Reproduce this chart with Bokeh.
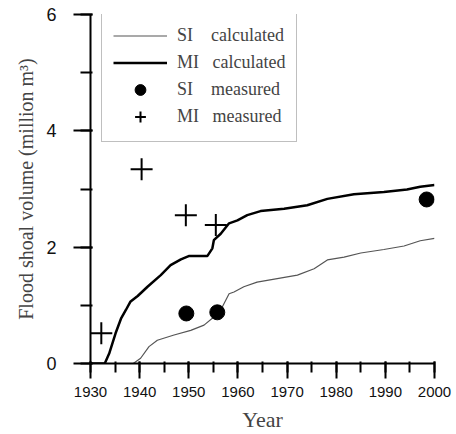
from bokeh.plotting import figure
from bokeh.models import Range1d, Legend, LegendItem
from bokeh.embed import file_html
from bokeh.resources import INLINE

# ---- data ----
mi_calc_year = [1930, 1932.9, 1933.8, 1935.1, 1936.2, 1937.2, 1938.1, 1939.6, 1941.6, 1944.3,
                1946.3, 1948.4, 1950.1, 1953.8, 1954.8, 1955.1, 1956.5, 1958.2, 1959.9, 1961.9,
                1964.6, 1969.4, 1974.1, 1978.2, 1983.6, 1989.7, 1994.4, 1997.1, 2000]
mi_calc_vol = [0, 0, 0.17, 0.52, 0.77, 0.92, 1.06, 1.16, 1.32, 1.52,
               1.69, 1.79, 1.85, 1.85, 1.98, 2.12, 2.23, 2.41, 2.46, 2.55,
               2.62, 2.66, 2.72, 2.83, 2.91, 2.95, 2.99, 3.04, 3.07]

si_calc_year = [1938.7, 1940.2, 1941.9, 1943.6, 1947.0, 1950.4, 1953.1, 1955.1, 1956.5, 1958.2,
                1959.2, 1961.2, 1963.9, 1968.0, 1972.1, 1975.5, 1978.2, 1981.6, 1985.0, 1989.7,
                1993.8, 1997.1, 2000]
si_calc_vol = [0, 0.09, 0.29, 0.40, 0.49, 0.57, 0.66, 0.80, 0.92, 1.20,
               1.23, 1.32, 1.40, 1.46, 1.52, 1.63, 1.78, 1.83, 1.90, 1.96,
               2.02, 2.11, 2.15]

si_meas_year = [1949.5, 1955.8, 1998.4]
si_meas_vol = [0.86, 0.88, 2.82]

mi_meas_year = [1932.2, 1940.4, 1949.4, 1955.5]
mi_meas_vol = [0.52, 3.34, 2.55, 2.38]

legend_labels = ["SI\u00a0\u00a0\u00a0\u00a0calculated", "MI\u00a0\u00a0\u00a0calculated",
                 "SI\u00a0\u00a0\u00a0\u00a0measured", "MI\u00a0\u00a0\u00a0measured"]

p = figure(width=456, height=434, output_backend="svg", toolbar_location=None,
           x_range=Range1d(1930, 2000), y_range=Range1d(0, 6),
           min_border_left=90, min_border_right=22, min_border_top=14, min_border_bottom=71)
p.outline_line_color = None
p.xgrid.grid_line_alpha = 0
p.ygrid.grid_line_alpha = 0

r_si = p.line(si_calc_year, si_calc_vol, line_color="#555555", line_width=1.2)
r_mi = p.line(mi_calc_year, mi_calc_vol, line_color="black", line_width=2.5)
r_sim = p.scatter(si_meas_year, si_meas_vol, marker="circle", size=15,
                  fill_color="black", line_color="black")
r_mim = p.scatter(mi_meas_year, mi_meas_vol, marker="cross", size=22,
                  line_color="black", line_width=2)

# modify the existing tickers in place (do not replace them)
xa = p.xaxis[0]
xa.ticker.desired_num_ticks = 8
xa.ticker.num_minor_ticks = 2
xa.axis_label = "Year"
xa.axis_label_text_font = "Liberation Serif"
xa.axis_label_text_font_style = "normal"
xa.axis_label_text_font_size = "22px"
xa.axis_label_standoff = 7
xa.major_label_text_font = "Liberation Sans"
xa.major_label_text_font_size = "15px"
xa.major_label_text_color = "#111111"
xa.major_label_standoff = 8
xa.major_tick_out = 15
xa.major_tick_in = 2
xa.minor_tick_out = 9
xa.minor_tick_in = 2
xa.axis_line_width = 2
xa.major_tick_line_width = 2
xa.minor_tick_line_width = 2

ya = p.yaxis[0]
ya.ticker.desired_num_ticks = 3
ya.ticker.num_minor_ticks = 2
ya.axis_label = "Flood shoal volume (million m\u00b3)"
ya.axis_label_text_font = "Liberation Serif"
ya.axis_label_text_font_style = "normal"
ya.axis_label_text_font_size = "20px"
ya.axis_label_standoff = 6
ya.major_label_text_font = "Liberation Sans"
ya.major_label_text_font_size = "18px"
ya.major_label_text_color = "#111111"
ya.major_label_standoff = 17
ya.major_tick_out = 17
ya.major_tick_in = 2
ya.minor_tick_out = 10
ya.minor_tick_in = 2
ya.axis_line_width = 2
ya.major_tick_line_width = 2
ya.minor_tick_line_width = 2

legend = Legend(items=[
    LegendItem(label=legend_labels[0], renderers=[r_si]),
    LegendItem(label=legend_labels[1], renderers=[r_mi]),
    LegendItem(label=legend_labels[2], renderers=[r_sim]),
    LegendItem(label=legend_labels[3], renderers=[r_mim]),
], location=(11, 221))
legend.label_text_font = "Liberation Serif"
legend.label_text_font_size = "18px"
legend.glyph_width = 54
legend.glyph_height = 27
legend.label_height = 27
legend.label_standoff = 10
legend.spacing = 0
legend.padding = 11
legend.margin = 0
legend.border_line_color = "#808080"
legend.border_line_width = 1
legend.background_fill_alpha = 1
p.add_layout(legend, "center")

open("out.html", "w").write(file_html(p, INLINE))
